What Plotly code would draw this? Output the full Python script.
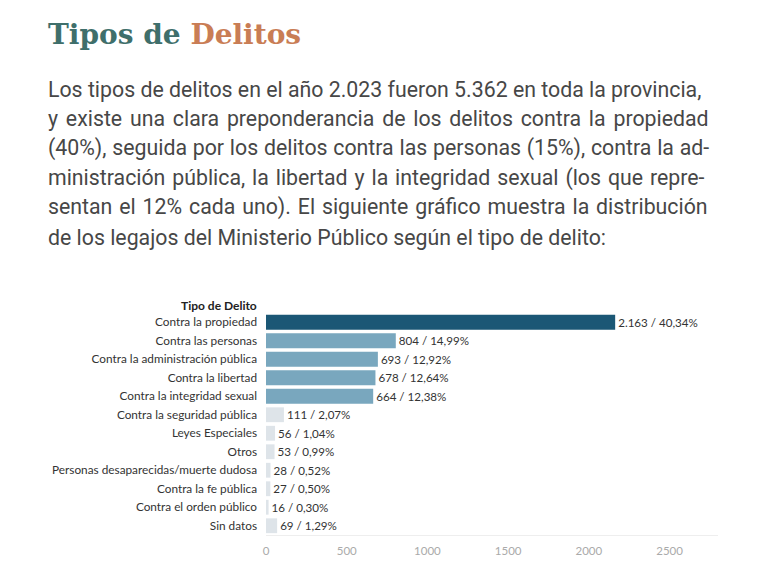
import plotly.graph_objects as go

# data
categorias = [
    "Contra la propiedad",
    "Contra las personas",
    "Contra la administración pública",
    "Contra la libertad",
    "Contra la integridad sexual",
    "Contra la seguridad pública",
    "Leyes Especiales",
    "Otros",
    "Personas desaparecidas/muerte dudosa",
    "Contra la fe pública",
    "Contra el orden público",
    "Sin datos",
]
cantidades = [2163, 804, 693, 678, 664, 111, 56, 53, 28, 27, 16, 69]
porcentajes = [40.34, 14.99, 12.92, 12.64, 12.38, 2.07, 1.04, 0.99, 0.52, 0.50, 0.30, 1.29]
ticks_x = [0, 500, 1000, 1500, 2000, 2500]

titulo_a = "Tipos de "
titulo_b = "Delitos"
parrafo = [
    "Los tipos de delitos en el año 2.023 fueron 5.362 en toda la provincia,",
    "y existe una clara preponderancia de los delitos contra la propiedad",
    "(40%), seguida por los delitos contra las personas (15%), contra la ad-",
    "ministración pública, la libertad y la integridad sexual (los que repre-",
    "sentan el 12% cada uno). El siguiente gráfico muestra la distribución",
    "de los legajos del Ministerio Público según el tipo de delito:",
]
# extra word spacing (px) to fake the justified paragraph
espaciado = [0, 2.5, 0.5, 1.6, 1.6, 0]

W, H = 768, 571
OFF = 8  # page body margin of the html
# plot area in screen pixels
L, R, T, B = 266, 718, 313, 535


def px(x):
    return (x - L) / (R - L)


def py(y):
    return (B - y) / (B - T)


def fmt_num(n):
    return f"{n:,}".replace(",", ".")


def fmt_pct(p):
    return f"{p:.2f}".replace(".", ",") + "%"


etiquetas = [f"{fmt_num(c)} / {fmt_pct(p)}" for c, p in zip(cantidades, porcentajes)]


def color_bar(v):
    if v > 1000:
        return "#1b5775"
    if v > 500:
        return "#79a7be"
    return "#dee4e9"


fig = go.Figure(go.Bar(
    x=cantidades,
    y=categorias,
    orientation="h",
    marker=dict(color=[color_bar(v) for v in cantidades], line=dict(width=0)),
    text=etiquetas,
    textposition="outside",
    textfont=dict(family="Lato", size=11.6, color="#333333"),
    constraintext="none",
    cliponaxis=False,
    hoverinfo="skip",
))

fig.update_layout(
    width=W, height=H,
    margin=dict(l=L - OFF, r=W - R + OFF, t=T - OFF, b=H - B + OFF),
    paper_bgcolor="white",
    plot_bgcolor="white",
    bargap=0.2,
    showlegend=False,
    font=dict(family="Lato", size=11.6, color="#333333"),
)
fig.update_xaxes(
    range=[0, 2800],
    tickvals=ticks_x,
    showgrid=False,
    zeroline=False,
    showline=True,
    linecolor="#eeeeee",
    linewidth=1,
    tickfont=dict(family="Lato", size=11.5, color="#aaaaaa"),
    ticks="",
    ticklabelstandoff=5,
)
fig.update_yaxes(
    autorange="reversed",
    showgrid=False,
    zeroline=False,
    ticks="",
    ticklabelstandoff=8,
    tickfont=dict(family="Lato", size=11.8, color="#333333"),
)

# chart header
fig.add_annotation(
    text="<b>Tipo de Delito</b>", x=px(259), y=py(305), xref="paper", yref="paper",
    xanchor="right", yanchor="middle", showarrow=False,
    font=dict(family="Lato", size=12, color="#222222"),
)

# title
fig.add_annotation(
    text=f"<b><span style='color:#3f6f6b'>{titulo_a}</span><span style='color:#c97d55'>{titulo_b}</span></b>",
    x=px(46), y=py(34), xref="paper", yref="paper",
    xanchor="left", yanchor="middle", showarrow=False,
    font=dict(family="DejaVu Serif", size=28),
)

# paragraph
for i, (linea, ws) in enumerate(zip(parrafo, espaciado)):
    fig.add_annotation(
        text=f"<span style='word-spacing:{ws}px'>{linea}</span>",
        x=px(46), y=py(89 + i * 29.6), xref="paper", yref="paper",
        xanchor="left", yanchor="middle", showarrow=False,
        font=dict(family="Roboto", size=21.3, color="#474747"),
    )

fig.write_html("out.html")
